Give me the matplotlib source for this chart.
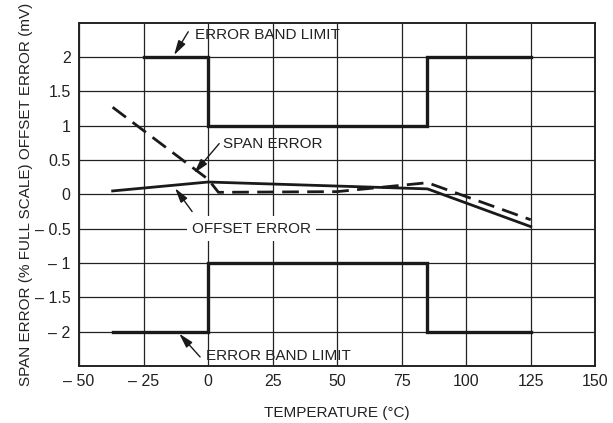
import matplotlib
matplotlib.use("Agg")
import matplotlib.pyplot as plt

plt.rcParams["font.family"] = ["Liberation Sans Narrow", "Liberation Sans", "DejaVu Sans"]
plt.rcParams["font.size"] = 11

# error band limits (step outlines)
band_hi_t = [-25, 0, 0, 85, 85, 125]
band_hi_v = [2.0, 2.0, 1.0, 1.0, 2.0, 2.0]
band_lo_t = [-37, 0, 0, 85, 85, 125]
band_lo_v = [-2.0, -2.0, -1.0, -1.0, -2.0, -2.0]

# offset error (mV), solid
offset_t = [-37, 0, 85, 125]
offset_v = [0.05, 0.18, 0.08, -0.47]

# span error (% full scale), dashed
span_t = [-37, 0, 4, 50, 85, 125]
span_v = [1.27, 0.22, 0.03, 0.04, 0.17, -0.37]

xticks = [-50, -25, 0, 25, 50, 75, 100, 125, 150]
yticks = [-2, -1.5, -1, -0.5, 0, 0.5, 1, 1.5, 2]

# callouts: label, text position, arrow tail, arrow tip
notes = [
    ("ERROR BAND LIMIT", (-5, 2.32), (-7.7, 2.37), (-13.2, 2.03)),
    ("SPAN ERROR", (5.8, 0.73), (4.3, 0.74), (-5.4, 0.31)),
    ("OFFSET ERROR", (-6.2, -0.5), (-6.2, -0.25), (-12.8, 0.09)),
    ("ERROR BAND LIMIT", (-0.8, -2.35), (-3.1, -2.37), (-11.2, -2.03)),
]


def fmt(v):
    s = "%g" % abs(v)
    return "\u2013 " + s if v < 0 else s


fig = plt.figure(figsize=(6.13, 4.23), dpi=100)
ax = fig.add_axes([0.129, 0.135, 0.842, 0.811])

ax.plot(band_hi_t, band_hi_v, color="#1a1a1a", lw=2.4, solid_joinstyle="miter", zorder=3)
ax.plot(band_lo_t, band_lo_v, color="#1a1a1a", lw=2.4, solid_joinstyle="miter", zorder=3)
ax.plot(offset_t, offset_v, color="#1a1a1a", lw=2.0, zorder=3)
ax.plot(span_t, span_v, color="#1a1a1a", lw=2.0, dashes=(6, 3), zorder=3)

ax.set_xlim(-50, 150)
ax.set_ylim(-2.5, 2.5)
ax.set_xticks(xticks)
ax.set_yticks(yticks)
ax.set_xticklabels([fmt(v) for v in xticks])
ax.set_yticklabels([fmt(v) for v in yticks])
ax.tick_params(length=0, pad=6, labelsize=11.5, colors="#222222")
ax.grid(True, color="#222222", lw=0.9)
for sp in ax.spines.values():
    sp.set_linewidth(1.4)
    sp.set_color("#222222")

ax.set_xlabel("TEMPERATURE (\u00b0C)", fontsize=11, labelpad=12, color="#222222")
ax.set_ylabel("SPAN ERROR (% FULL SCALE) OFFSET ERROR (mV)", fontsize=11, color="#222222")
ax.yaxis.set_label_coords(-0.089, 0.5)

arrow = dict(arrowstyle="-|>,head_length=0.8,head_width=0.22", color="#1a1a1a", lw=1.0,
             shrinkA=0, shrinkB=0)
for label, txt, tail, tip in notes:
    ax.annotate("", xy=tip, xytext=tail, arrowprops=arrow, zorder=5)
    box = None
    if label == "OFFSET ERROR":
        box = dict(boxstyle="square,pad=0.35", fc="white", ec="none")
    ax.text(txt[0], txt[1], label, fontsize=11, va="center", ha="left", color="#222222",
            zorder=4, bbox=box)

fig.savefig("out.png", dpi=100)
